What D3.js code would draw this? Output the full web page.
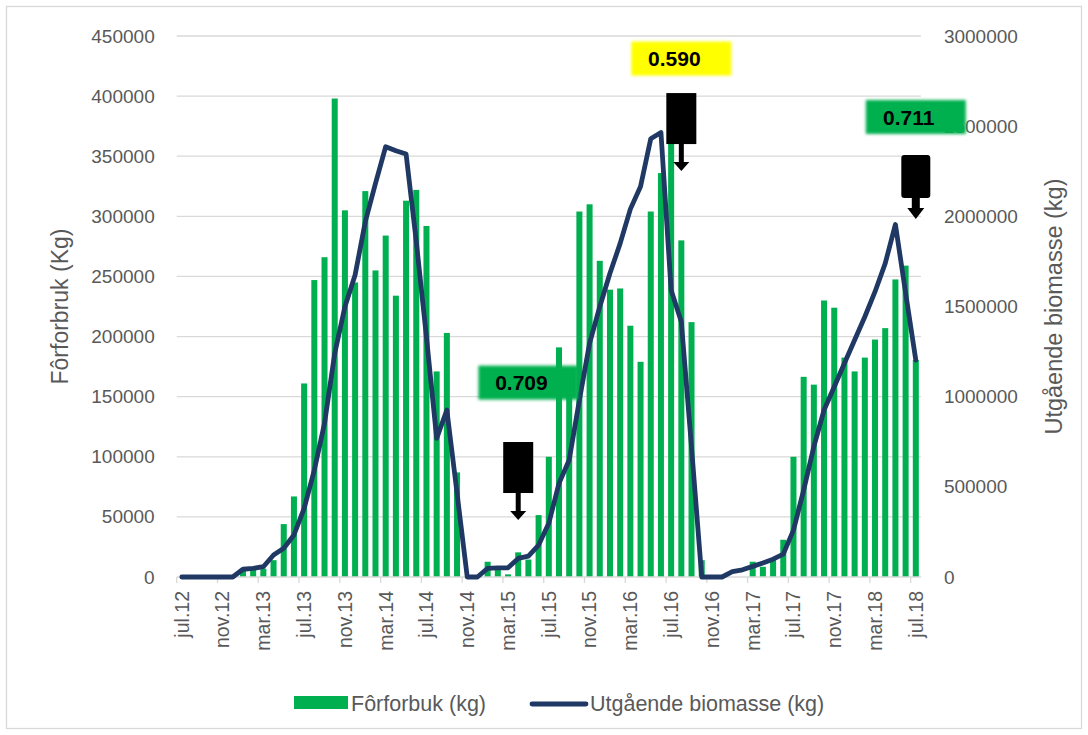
<!DOCTYPE html>
<html>
<head>
<meta charset="utf-8">
<script src="https://cdn.jsdelivr.net/npm/d3@7"></script>
<style>
  body { margin: 0; background: #ffffff; }
  svg { display: block; }
  text { font-family: "Liberation Sans", Arial, sans-serif; }
</style>
</head>
<body>
<svg id="chart" width="1088" height="735"></svg>
<script>
// Monthly categories, jul.12 – jul.18
const categories = [
  "jul.12","aug.12","sep.12","okt.12","nov.12","des.12",
  "jan.13","feb.13","mar.13","apr.13","mai.13","jun.13","jul.13","aug.13","sep.13","okt.13","nov.13","des.13",
  "jan.14","feb.14","mar.14","apr.14","mai.14","jun.14","jul.14","aug.14","sep.14","okt.14","nov.14","des.14",
  "jan.15","feb.15","mar.15","apr.15","mai.15","jun.15","jul.15","aug.15","sep.15","okt.15","nov.15","des.15",
  "jan.16","feb.16","mar.16","apr.16","mai.16","jun.16","jul.16","aug.16","sep.16","okt.16","nov.16","des.16",
  "jan.17","feb.17","mar.17","apr.17","mai.17","jun.17","jul.17","aug.17","sep.17","okt.17","nov.17","des.17",
  "jan.18","feb.18","mar.18","apr.18","mai.18","jun.18","jul.18"
];

// Fôrforbruk (kg) per month
const feedKg = [
  0, 0, 0, 0, 0, 0,
  5000, 6500, 7000, 14000, 44000, 67000, 161000, 247000, 266000, 398000, 305000, 245000,
  321000, 255000, 284000, 234000, 313000, 322000, 292000, 171000, 203000, 87000, 0, 0,
  12700, 8000, 2200, 20500, 14500, 51500, 100000, 191000, 160000, 304000, 310000, 263000,
  239000, 240000, 209000, 179000, 304000, 336000, 370000, 280000, 212000, 14000, 0, 0,
  0, 0, 12700, 8500, 15500, 31000, 100000, 166500, 160000, 230000, 224000, 182500,
  171000, 182500, 197500, 207000, 247500, 259000, 180500
];

// Utgående biomasse (kg) per month
const biomassKg = [
  0, 0, 0, 0, 0, 0,
  43000, 48000, 57000, 122000, 159000, 233000, 381000, 593000, 852000, 1240000, 1499000, 1675000,
  1970000, 2183000, 2386000, 2364000, 2346000, 1860000, 1330000, 769000, 926000, 464000, 0, 0,
  48000, 51000, 51000, 103000, 116000, 177000, 298000, 519000, 649000, 981000, 1296000, 1499000,
  1684000, 1850000, 2040000, 2165000, 2430000, 2465000, 1590000, 1415000, 720000, 0, 0, 0,
  29500, 40000, 59000, 78000, 99000, 127000, 260000, 482000, 723000, 926000, 1055000, 1185000,
  1314000, 1443000, 1582000, 1739000, 1955000, 1575000, 1203000
];

const leftTicks  = [0, 50000, 100000, 150000, 200000, 250000, 300000, 350000, 400000, 450000];
const rightTicks = [0, 500000, 1000000, 1500000, 2000000, 2500000, 3000000];
const xLabelStep = 4;

// Feed-factor labels, anchored to a month and a biomass level
const ratioLabels = [
  { text: "0.709", cat: "mai.15", value: 1078000, fill: "#00b050" },
  { text: "0.590", cat: "aug.16", value: 2875000, fill: "#ffff00" },
  { text: "0.711", cat: "jul.18", value: 2551000, fill: "#00b050" }
];

// Down-arrow callouts: tip placed at month / biomass level
const callouts = [
  { cat: "apr.15", value: 316000, kind: "tall" },
  { cat: "aug.16", value: 2251000, kind: "tall" },
  { cat: "jul.18", value: 1985000, kind: "short" }
];

// ---------- layout ----------
const W = 1088, H = 735;
const plot = { left: 176.7, right: 920.9, top: 36, bottom: 577 };
const barColor = "#00b050";
const lineColor = "#1f3864";
const gridColor = "#d9d9d9";
const textColor = "#595959";

const svg = d3.select("#chart");

svg.append("rect")
  .attr("x", 6.5).attr("y", 6.5)
  .attr("width", W - 13).attr("height", H - 13)
  .attr("fill", "#ffffff").attr("stroke", gridColor).attr("stroke-width", 1.3);

const defs = svg.append("defs");
defs.append("filter").attr("id", "soft").attr("x", "-20%").attr("y", "-40%").attr("width", "140%").attr("height", "180%")
  .append("feGaussianBlur").attr("stdDeviation", 1.6);
defs.append("filter").attr("id", "softer").attr("x", "-20%").attr("y", "-20%").attr("width", "140%").attr("height", "140%")
  .append("feGaussianBlur").attr("stdDeviation", 0.5);

const x = d3.scaleBand()
  .domain(categories)
  .range([plot.left, plot.right])
  .paddingInner(0.41)
  .paddingOuter(0.205);

const yL = d3.scaleLinear().domain([0, 450000]).range([plot.bottom, plot.top]);
const yR = d3.scaleLinear().domain([0, 3000000]).range([plot.bottom, plot.top]);

const cx = c => x(c) + x.bandwidth() / 2;

// gridlines
svg.append("g")
  .selectAll("line")
  .data(leftTicks.filter(d => d > 0))
  .join("line")
  .attr("x1", plot.left).attr("x2", plot.right)
  .attr("y1", d => yL(d)).attr("y2", d => yL(d))
  .attr("stroke", gridColor).attr("stroke-width", 1.3);

// left axis
const gLeft = svg.append("g")
  .attr("transform", `translate(${plot.left},0)`)
  .call(d3.axisLeft(yL).tickValues(leftTicks).tickFormat(d3.format("d")).tickSize(0).tickPadding(22));
gLeft.select(".domain").remove();
gLeft.selectAll("text").attr("fill", textColor).style("font-size", "19px");

// right axis
const gRight = svg.append("g")
  .attr("transform", `translate(${plot.right},0)`)
  .call(d3.axisRight(yR).tickValues(rightTicks).tickFormat(d3.format("d")).tickSize(0).tickPadding(23));
gRight.select(".domain").remove();
gRight.selectAll("text").attr("fill", textColor).style("font-size", "19px");

// bars
svg.append("g")
  .selectAll("rect")
  .data(categories.map((c, i) => ({ c, v: feedKg[i] })))
  .join("rect")
  .attr("x", d => x(d.c))
  .attr("width", x.bandwidth())
  .attr("y", d => yL(d.v))
  .attr("height", d => yL(0) - yL(d.v))
  .attr("fill", barColor);

// bottom axis: labels centred on months, tick marks on month boundaries
const labelled = categories.filter((c, i) => i % xLabelStep === 0);
const gBottom = svg.append("g")
  .attr("transform", `translate(0,${plot.bottom})`)
  .call(d3.axisBottom(x).tickValues(labelled).tickSize(6).tickSizeOuter(0));
gBottom.select(".domain")
  .attr("stroke", gridColor).attr("stroke-width", 1.3)
  .attr("d", `M${plot.left},0H${plot.right}`);
gBottom.selectAll(".tick line")
  .attr("stroke", gridColor).attr("stroke-width", 1.3)
  .attr("transform", `translate(${-x.step() / 2},0)`);
gBottom.selectAll(".tick text")
  .attr("fill", textColor)
  .style("font-size", "19.5px")
  .attr("text-anchor", "end")
  .attr("transform", "rotate(-90)")
  .attr("x", -14).attr("y", 0).attr("dy", "0.35em");

// biomass line
const line = d3.line()
  .x((d, i) => cx(categories[i]))
  .y(d => yR(d));
svg.append("path")
  .datum(biomassKg)
  .attr("d", line)
  .attr("fill", "none")
  .attr("stroke", lineColor)
  .attr("stroke-width", 4.8)
  .attr("stroke-linejoin", "round")
  .attr("stroke-linecap", "round");

// axis titles
svg.append("text")
  .attr("transform", `translate(60,${(plot.top + plot.bottom) / 2}) rotate(-90)`)
  .attr("text-anchor", "middle")
  .attr("dy", "0.35em")
  .attr("fill", textColor)
  .style("font-size", "23px")
  .text("Fôrforbruk (Kg)");
svg.append("text")
  .attr("transform", `translate(1054,${(plot.top + plot.bottom) / 2}) rotate(-90)`)
  .attr("text-anchor", "middle")
  .attr("dy", "0.35em")
  .attr("fill", textColor)
  .style("font-size", "23.5px")
  .text("Utgående biomasse (kg)");

// feed-factor labels
const lbl = svg.append("g");
ratioLabels.forEach(d => {
  const bx = cx(d.cat), by = yR(d.value);
  lbl.append("rect")
    .attr("x", bx - 50).attr("y", by - 17)
    .attr("width", 100).attr("height", 34)
    .attr("fill", d.fill)
    .attr("filter", "url(#soft)");
  lbl.append("text")
    .attr("x", bx - 7).attr("y", by)
    .attr("dy", "0.36em")
    .attr("text-anchor", "middle")
    .attr("fill", "#000000")
    .style("font-size", "21px")
    .style("font-weight", "bold")
    .text(d.text);
});

// arrow callouts
const shapes = {
  tall:  { w: 30, h: 51, stem: 18, stemW: 5, head: 9, headW: 16, r: 0 },
  short: { w: 29, h: 43, stem: 10, stemW: 8, head: 11, headW: 17, r: 3 }
};
callouts.forEach(d => {
  const s = shapes[d.kind];
  const tx = cx(d.cat), ty = yR(d.value);
  const headTop = ty - s.head, stemTop = headTop - s.stem, boxTop = stemTop - s.h;
  const g = svg.append("g").attr("filter", "url(#softer)");
  g.append("rect")
    .attr("x", tx - s.w / 2).attr("y", boxTop)
    .attr("width", s.w).attr("height", s.h)
    .attr("rx", s.r)
    .attr("fill", "#000000");
  g.append("path")
    .attr("d", `M${tx - s.stemW / 2},${stemTop - 1}V${headTop}H${tx - s.headW / 2}L${tx},${ty}L${tx + s.headW / 2},${headTop}H${tx + s.stemW / 2}V${stemTop - 1}Z`)
    .attr("fill", "#000000");
});

// legend
const lg = svg.append("g");
lg.append("rect").attr("x", 294).attr("y", 696).attr("width", 54).attr("height", 13).attr("fill", barColor);
lg.append("text").attr("x", 351).attr("y", 703).attr("dy", "0.35em")
  .attr("fill", textColor).style("font-size", "21.5px").text("Fôrforbuk (kg)");
lg.append("line").attr("x1", 532).attr("x2", 586).attr("y1", 704).attr("y2", 704)
  .attr("stroke", lineColor).attr("stroke-width", 4.8).attr("stroke-linecap", "round");
lg.append("text").attr("x", 590).attr("y", 703).attr("dy", "0.35em")
  .attr("fill", textColor).style("font-size", "21.5px").text("Utgående biomasse (kg)");
</script>
</body>
</html>
